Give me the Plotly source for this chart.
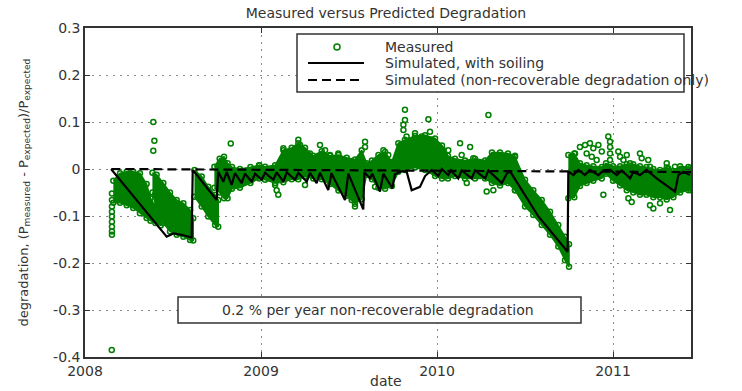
import plotly.graph_objects as go

# ---------------- data (decimal years, relative degradation) ----------------
# dense clusters of measured points: time, upper edge, lower edge
s1_t = [2008.161, 2008.199, 2008.237, 2008.274, 2008.312, 2008.350, 2008.372, 2008.400, 2008.430]
s1_hi = [-0.025, -0.009, -0.006, -0.006, -0.009, -0.032, -0.062, -0.080, -0.095]
s1_lo = [-0.072, -0.072, -0.077, -0.083, -0.094, -0.104, -0.110, -0.115, -0.120]

s2_t = [2008.383, 2008.407, 2008.445, 2008.483, 2008.521, 2008.559, 2008.597, 2008.615]
s2_hi = [-0.008, -0.012, -0.030, -0.050, -0.066, -0.073, -0.087, -0.105]
s2_lo = [-0.050, -0.085, -0.115, -0.133, -0.140, -0.144, -0.151, -0.152]

s3_t = [2008.622, 2008.663, 2008.700, 2008.739, 2008.757]
s3_hi = [-0.002, -0.016, -0.038, -0.055, -0.066]
s3_lo = [-0.059, -0.080, -0.101, -0.119, -0.123]

s4_t = [2008.735, 2008.765, 2008.790, 2008.810, 2008.835, 2008.880, 2008.940, 2008.990]
s4_hi = [0.005, 0.022, 0.026, 0.012, 0.004, 0.000, 0.004, 0.008]
s4_lo = [-0.040, -0.050, -0.062, -0.062, -0.042, -0.040, -0.030, -0.020]

s5_t = [2008.990, 2009.023, 2009.080, 2009.127, 2009.174, 2009.212, 2009.250, 2009.297,
        2009.345, 2009.392, 2009.440, 2009.487, 2009.534, 2009.572, 2009.600, 2009.630,
        2009.667, 2009.705, 2009.743, 2009.780, 2009.818, 2009.875, 2009.932, 2009.989,
        2010.028, 2010.062, 2010.102, 2010.159, 2010.216, 2010.273, 2010.312, 2010.358,
        2010.403, 2010.443]
s5_hi = [0.008, 0.005, 0.008, 0.040, 0.045, 0.055, 0.045, 0.028,
         0.038, 0.028, 0.030, 0.024, 0.020, 0.040, 0.012, 0.018,
         0.030, 0.036, 0.015, 0.055, 0.062, 0.070, 0.072, 0.065,
         0.050, 0.028, 0.022, 0.018, 0.022, 0.018, 0.035, 0.035,
         0.033, 0.028]
s5_lo = [-0.016, -0.023, -0.030, -0.028, -0.022, -0.022, -0.016, -0.020,
         -0.022, -0.032, -0.046, -0.057, -0.074, -0.064, -0.012, -0.022,
         -0.040, -0.042, -0.036, -0.006, -0.002, 0.003, -0.002, -0.015,
         -0.020, -0.020, -0.015, -0.020, -0.020, -0.020, -0.030, -0.035,
         -0.030, -0.045]

s6_t = [2010.443, 2010.500, 2010.547, 2010.595, 2010.642, 2010.689, 2010.727, 2010.750]
s6_hi = [0.026, -0.023, -0.045, -0.066, -0.091, -0.119, -0.144, -0.160]
s6_lo = [-0.045, -0.080, -0.098, -0.119, -0.140, -0.165, -0.194, -0.208]

s7_t = [2010.746, 2010.780, 2010.812, 2010.850, 2010.888, 2010.936, 2010.960, 2011.000,
        2011.040, 2011.078, 2011.115, 2011.153, 2011.190, 2011.229, 2011.267, 2011.305,
        2011.343, 2011.381, 2011.428, 2011.440]
s7_hi = [0.030, 0.033, 0.012, 0.008, 0.006, 0.004, 0.012, 0.006,
         0.006, 0.010, 0.010, 0.006, 0.004, 0.000, -0.002, 0.003,
         -0.004, 0.006, 0.004, 0.002]
s7_lo = [-0.062, -0.060, -0.036, -0.030, -0.025, -0.020, -0.010, -0.025,
         -0.035, -0.045, -0.050, -0.055, -0.055, -0.060, -0.060, -0.065,
         -0.060, -0.050, -0.045, -0.045]

# isolated measured points
pts_t = [2008.153, 2008.153, 2008.153, 2008.153, 2008.153, 2008.153, 2008.153, 2008.153, 2008.153, 2008.152,
         2008.388, 2008.394, 2008.388, 2008.828,
         2009.127, 2009.136, 2009.212, 2009.222, 2009.278, 2009.335, 2009.364, 2009.392, 2009.439,
         2009.591, 2009.591, 2009.695, 2009.723, 2009.809, 2009.809, 2009.818, 2009.818, 2009.827,
         2009.875, 2009.913, 2009.951, 2009.960, 2009.970,
         2009.080, 2009.089, 2009.098, 2009.250, 2009.515, 2009.534, 2009.648,
         2010.036, 2010.064, 2010.131, 2010.188, 2010.140, 2010.206, 2010.292, 2010.244, 2010.169,
         2010.282, 2010.320,
         2010.784, 2010.812, 2010.841, 2010.869, 2010.888, 2010.917, 2010.936, 2010.850, 2010.879,
         2010.907, 2010.973, 2010.983, 2010.983, 2010.983, 2010.983, 2011.030, 2011.040, 2011.059,
         2011.078, 2011.097, 2011.153, 2011.163, 2011.200, 2011.210, 2011.305, 2011.314, 2011.352,
         2010.945, 2011.087, 2011.106, 2011.210, 2011.229, 2011.324, 2011.267]
pts_v = [-0.052, -0.066, -0.080, -0.091, -0.101, -0.112, -0.123, -0.133, -0.140, -0.385,
         0.100, 0.060, 0.039, 0.054,
         0.044, 0.033, 0.062, 0.051, 0.033, 0.051, 0.040, 0.030, 0.033,
         0.058, 0.047, 0.040, 0.030, 0.094, 0.083, 0.126, 0.104, 0.069,
         0.076, 0.069, 0.106, 0.079, 0.062,
         -0.034, -0.045, -0.055, -0.034, -0.066, -0.080, -0.038,
         0.040, 0.040, 0.055, 0.047, 0.030, 0.023, 0.115, 0.012, -0.030,
         -0.048, -0.045,
         0.033, 0.047, 0.051, 0.055, 0.044, 0.051, 0.037, 0.033, 0.026,
         0.019, 0.069, 0.058, 0.047, 0.033, 0.019, 0.037, 0.026, 0.019,
         0.030, 0.012, 0.033, 0.023, 0.019, 0.005, 0.012, 0.001, 0.005,
         -0.055, -0.062, -0.070, -0.077, -0.084, -0.087, -0.073]

# simulated, with soiling
soil_t = [2008.148, 2008.464, 2008.502, 2008.549, 2008.606, 2008.612, 2008.748, 2008.757,
          2008.786, 2008.805, 2008.833, 2008.852, 2008.890, 2008.909, 2008.947, 2008.966,
          2009.004, 2009.023, 2009.070, 2009.089, 2009.127, 2009.146, 2009.193, 2009.212,
          2009.260, 2009.278, 2009.316, 2009.335, 2009.382, 2009.400, 2009.477, 2009.496,
          2009.581, 2009.587, 2009.619, 2009.632, 2009.676, 2009.695, 2009.746, 2009.761,
          2009.800, 2009.827, 2009.856, 2009.903, 2009.932, 2009.970, 2010.007, 2010.027,
          2010.064, 2010.080, 2010.121, 2010.140, 2010.197, 2010.216, 2010.273, 2010.292,
          2010.368, 2010.396, 2010.415, 2010.576, 2010.742, 2010.746, 2010.775, 2010.803,
          2010.840, 2010.869, 2010.917, 2010.945, 2010.983, 2011.021, 2011.049, 2011.097,
          2011.115, 2011.153, 2011.190, 2011.248, 2011.352, 2011.371, 2011.400, 2011.437]
soil_v = [0.000, -0.144, -0.137, -0.140, -0.146, -0.002, -0.066, -0.006,
          -0.027, -0.006, -0.034, -0.009, -0.030, -0.010, -0.027, -0.010,
          -0.023, -0.008, -0.023, -0.007, -0.027, -0.007, -0.023, -0.008,
          -0.027, -0.008, -0.030, -0.008, -0.045, -0.009, -0.066, -0.010,
          -0.086, -0.007, -0.020, -0.010, -0.048, -0.010, -0.041, -0.011,
          -0.005, -0.005, -0.045, -0.038, -0.015, -0.002, -0.015, 0.000,
          -0.013, -0.003, -0.020, -0.003, -0.020, -0.003, -0.020, -0.003,
          -0.030, -0.010, -0.005, -0.101, -0.176, -0.005, -0.013, -0.002,
          -0.013, -0.002, -0.013, -0.003, -0.002, -0.013, -0.003, -0.020,
          -0.006, -0.013, -0.002, -0.020, -0.048, -0.013, -0.006, -0.013]

# simulated, non-recoverable degradation only
nonrec_t = [2008.150, 2011.443]
nonrec_v = [0.000, -0.0066]

x_ticks = [2008, 2009, 2010, 2011]
x_labels = ["2008", "2009", "2010", "2011"]
y_ticks = [0.3, 0.2, 0.1, 0.0, -0.1, -0.2, -0.3, -0.4]
y_labels = ["0.3", "0.2", "0.1", "0", "-0.1", "-0.2", "-0.3", "-0.4"]

legend_labels = ["Measured", "Simulated, with soiling",
                 "Simulated (non-recoverable degradation only)"]
note_text = "0.2 % per year non-recoverable degradation"

# ---------------- styling ----------------
GREEN = "#007F00"
TXT = "#333333"
FONT = "DejaVu Sans"

segments = [(s1_t, s1_hi, s1_lo), (s2_t, s2_hi, s2_lo), (s3_t, s3_hi, s3_lo),
            (s4_t, s4_hi, s4_lo), (s5_t, s5_hi, s5_lo), (s6_t, s6_hi, s6_lo),
            (s7_t, s7_hi, s7_lo)]

fig = go.Figure()

for t, hi, lo in segments:
    fig.add_trace(go.Scatter(
        x=list(t) + list(t)[::-1], y=list(hi) + list(lo)[::-1],
        mode="lines", fill="toself", fillcolor=GREEN,
        line=dict(color=GREEN, width=1.5), showlegend=False, hoverinfo="skip"))
    fig.add_trace(go.Scatter(
        x=list(t) + list(t), y=list(hi) + list(lo), mode="markers",
        marker=dict(symbol="circle-open", size=5, color=GREEN, line=dict(width=1.5)),
        showlegend=False))

fig.add_trace(go.Scatter(
    x=pts_t, y=pts_v, mode="markers",
    marker=dict(symbol="circle-open", size=5, color=GREEN, line=dict(width=1.5)),
    showlegend=False))

fig.add_trace(go.Scatter(
    x=nonrec_t, y=nonrec_v, mode="lines",
    line=dict(color="black", width=2.2, dash="9px,5px"), showlegend=False))

fig.add_trace(go.Scatter(
    x=soil_t, y=soil_v, mode="lines",
    line=dict(color="black", width=2.2), showlegend=False))

# plot area in pixels: left 85, right 691, top 28, bottom 357
W, H = 742, 391
L, R, T, B = 85, 691, 28, 357


def px(x):
    return (x - L) / (R - L)


def py(y):
    return (B - y) / (B - T)


shapes = []
annotations = []

# legend box
shapes.append(dict(type="rect", xref="paper", yref="paper",
                   x0=px(297), x1=px(684), y0=py(92), y1=py(34),
                   line=dict(color=TXT, width=1.5), fillcolor="white", layer="above"))
rows = [47, 63, 80]
shapes.append(dict(type="circle", xref="paper", yref="paper",
                   xsizemode="pixel", ysizemode="pixel",
                   xanchor=px(337), yanchor=py(rows[0]),
                   x0=-3, x1=3, y0=-3, y1=3,
                   line=dict(color=GREEN, width=1.5), layer="above"))
shapes.append(dict(type="line", xref="paper", yref="paper",
                   x0=px(308), x1=px(364), y0=py(rows[1]), y1=py(rows[1]),
                   line=dict(color="black", width=2.2), layer="above"))
shapes.append(dict(type="line", xref="paper", yref="paper",
                   x0=px(308), x1=px(364), y0=py(rows[2]), y1=py(rows[2]),
                   line=dict(color="black", width=2.2, dash="9px,5px"), layer="above"))
for lab, r in zip(legend_labels, rows):
    annotations.append(dict(text=lab, xref="paper", yref="paper", x=px(383), y=py(r),
                            xanchor="left", yanchor="middle", showarrow=False,
                            font=dict(family=FONT, size=14, color=TXT)))

# note box
shapes.append(dict(type="rect", xref="paper", yref="paper",
                   x0=px(178), x1=px(581), y0=py(323), y1=py(297),
                   line=dict(color=TXT, width=1.5), fillcolor="white", layer="above"))
annotations.append(dict(text=note_text, xref="paper", yref="paper", x=px(378), y=py(310),
                        xanchor="center", yanchor="middle", showarrow=False,
                        font=dict(family=FONT, size=14, color=TXT)))

# axis titles
annotations.append(dict(text="date", xref="paper", yref="paper", x=px(386), y=py(381),
                        xanchor="center", yanchor="middle", showarrow=False,
                        font=dict(family=FONT, size=14, color=TXT)))
annotations.append(dict(
    text="degradation, (P<sub>measured</sub> - P<sub>expected</sub>)/P<sub>expected</sub>",
    xref="paper", yref="paper", x=px(24), y=0.5, textangle=-90,
    xanchor="center", yanchor="middle", showarrow=False,
    font=dict(family=FONT, size=13, color=TXT)))

axis_common = dict(showline=True, linecolor=TXT, linewidth=1.5, mirror="allticks",
                   ticks="inside", ticklen=5, tickcolor=TXT, tickwidth=1.2,
                   showgrid=True, gridcolor="#8a8a8a", gridwidth=1.2, griddash="2px,5px",
                   zeroline=False, tickfont=dict(family=FONT, size=14, color=TXT))

fig.update_layout(
    width=W, height=H,
    margin=dict(l=L, r=W - R, t=T, b=H - B, pad=0),
    paper_bgcolor="white", plot_bgcolor="white",
    title=dict(text="Measured versus Predicted Degradation", x=px(386), xref="paper",
               xanchor="center", y=1 - 13 / H, yref="container", yanchor="middle",
               font=dict(family=FONT, size=14, color=TXT)),
    xaxis=dict(range=[2008, 2011.443], tickvals=x_ticks, ticktext=x_labels, **axis_common),
    yaxis=dict(range=[-0.4, 0.3], tickvals=y_ticks, ticktext=y_labels, **axis_common),
    shapes=shapes, annotations=annotations, showlegend=False,
)

fig.write_html("out.html")
